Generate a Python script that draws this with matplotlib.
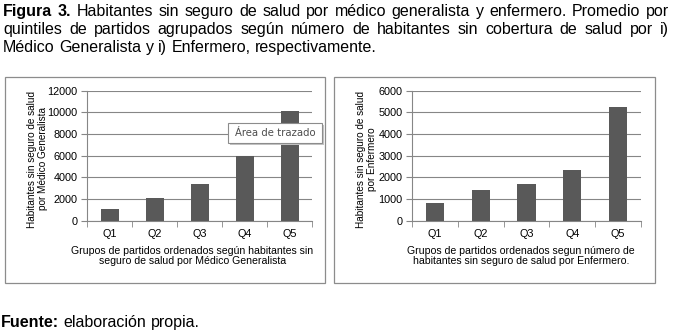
import matplotlib
matplotlib.use('Agg')
import matplotlib.pyplot as plt
from matplotlib import font_manager
from matplotlib.patches import Rectangle
import numpy as np

quintiles = ['Q1', 'Q2', 'Q3', 'Q4', 'Q5']
medico = [1050, 2050, 3380, 6000, 10100]
enfermero = [800, 1400, 1690, 2330, 5240]

W, H = 677, 334
fonts = {f.name for f in font_manager.fontManager.ttflist}
narrow = 'Liberation Sans Narrow' if 'Liberation Sans Narrow' in fonts else 'Liberation Sans'
plt.rcParams['font.family'] = ['Liberation Sans', 'DejaVu Sans']

fig = plt.figure(figsize=(W / 100, H / 100), dpi=100)
fig.patch.set_facecolor('white')

def fx(px):
    return px / W

def fy(py):
    return 1 - py / H

# chart boxes
for x0, x1 in [(5, 325), (334, 655)]:
    fig.patches.append(Rectangle((fx(x0), fy(283)), fx(x1 - x0), (283 - 77) / H,
                                 transform=fig.transFigure, fill=False,
                                 edgecolor='#8c8c8c', linewidth=0.9))

def draw_chart(left, right, vals, ymax, step, ylabel, ylab_x, xlabel, xlab_x):
    ax = fig.add_axes([fx(left), fy(220.7), fx(right - left), 130 / H])
    x = np.arange(len(quintiles))
    ax.bar(x, vals, width=0.4, color='#595959', zorder=3)
    ax.set_xlim(-0.5, len(quintiles) - 0.5)
    ax.set_ylim(0, ymax)
    ax.set_yticks(np.arange(0, ymax + 1, step))
    ax.yaxis.grid(True, color='#868686', linewidth=0.8, zorder=0)
    ax.set_xticks(x)
    ax.set_xticklabels(quintiles)
    ax.set_xticks(np.arange(-0.5, len(quintiles)), minor=True)
    ax.tick_params(axis='x', which='major', length=0, pad=6, labelsize=7.8)
    ax.tick_params(axis='x', which='minor', length=4, color='#868686', direction='out')
    ax.tick_params(axis='y', length=4, color='#868686', labelsize=7.8, pad=3)
    for s in ['top', 'right']:
        ax.spines[s].set_visible(False)
    ax.spines['left'].set_color('#868686')
    ax.spines['bottom'].set_color('#868686')
    ax.set_facecolor('white')
    fig.text(fx(ylab_x), fy(159), ylabel, fontsize=7.2, rotation=90, linespacing=1.15,
             ha='center', va='center', multialignment='center')
    fig.text(fx(xlab_x), fy(256), xlabel, fontsize=7.6, linespacing=1.1,
             ha='center', va='center', multialignment='center')
    return ax

ax1 = draw_chart(87, 312, medico, 12000, 2000,
                 'Habitantes sin seguro de salud\npor Médico Generalista', 37.5,
                 'Grupos de partidos ordenados según habitantes sin\nseguro de salud por Médico Generalista', 192.5)
ax2 = draw_chart(412, 641, enfermero, 6000, 1000,
                 'Habitantes sin seguro de salud\npor Enfermero', 366.5,
                 'Grupos de partidos ordenados segun número de\nhabitantes sin seguro de salud por Enfermero.', 521)

# tooltip
fig.patches.append(Rectangle((fx(230), fy(145)), fx(94), 20 / H,
                             transform=fig.transFigure, facecolor='#c4c4c4',
                             edgecolor='none', zorder=9))
fig.patches.append(Rectangle((fx(228), fy(143)), fx(94), 20 / H,
                             transform=fig.transFigure, facecolor='white',
                             edgecolor='#8c8c8c', linewidth=0.8, zorder=10))
fig.text(fx(275), fy(133), 'Área de trazado', fontsize=7.3, family=['DejaVu Sans'],
         color='#4d4d4d', ha='center', va='center', zorder=11)

# caption, justified lines (y is the baseline)
renderer = fig.canvas.get_renderer()
cap_size = 11.5

def justified(words, y, x0, x1, justify=True):
    texts = []
    for word, bold in words:
        t = fig.text(0, fy(y), word, fontsize=cap_size, family=[narrow, 'DejaVu Sans'],
                     fontweight='bold' if bold else 'normal', va='baseline')
        texts.append(t)
    widths = [t.get_window_extent(renderer).width for t in texts]
    a = fig.text(0, 0, 'a a', fontsize=cap_size, family=[narrow])
    b = fig.text(0, 0, 'aa', fontsize=cap_size, family=[narrow])
    space = a.get_window_extent(renderer).width - b.get_window_extent(renderer).width
    a.remove()
    b.remove()
    if justify and len(texts) > 1:
        gap = (x1 - x0 - sum(widths)) / (len(texts) - 1)
    else:
        gap = space
    x = x0
    for t, w in zip(texts, widths):
        t.set_x(fx(x))
        x += w + gap

line1 = [('Figura', True), ('3.', True)] + [(w, False) for w in
         'Habitantes sin seguro de salud por médico generalista y enfermero. Promedio por'.split()]
line2 = [(w, False) for w in
         'quintiles de partidos agrupados según número de habitantes sin cobertura de salud por i)'.split()]
line3 = [(w, False) for w in 'Médico Generalista y i) Enfermero, respectivamente.'.split()]
justified(line1, 16, 3, 669)
justified(line2, 34, 3, 669)
justified(line3, 52, 3, 669, justify=False)

justified([('Fuente:', True), ('elaboración', False), ('propia.', False)], 327, 1, 0, justify=False)

fig.savefig('out.png', dpi=100, facecolor='white')
